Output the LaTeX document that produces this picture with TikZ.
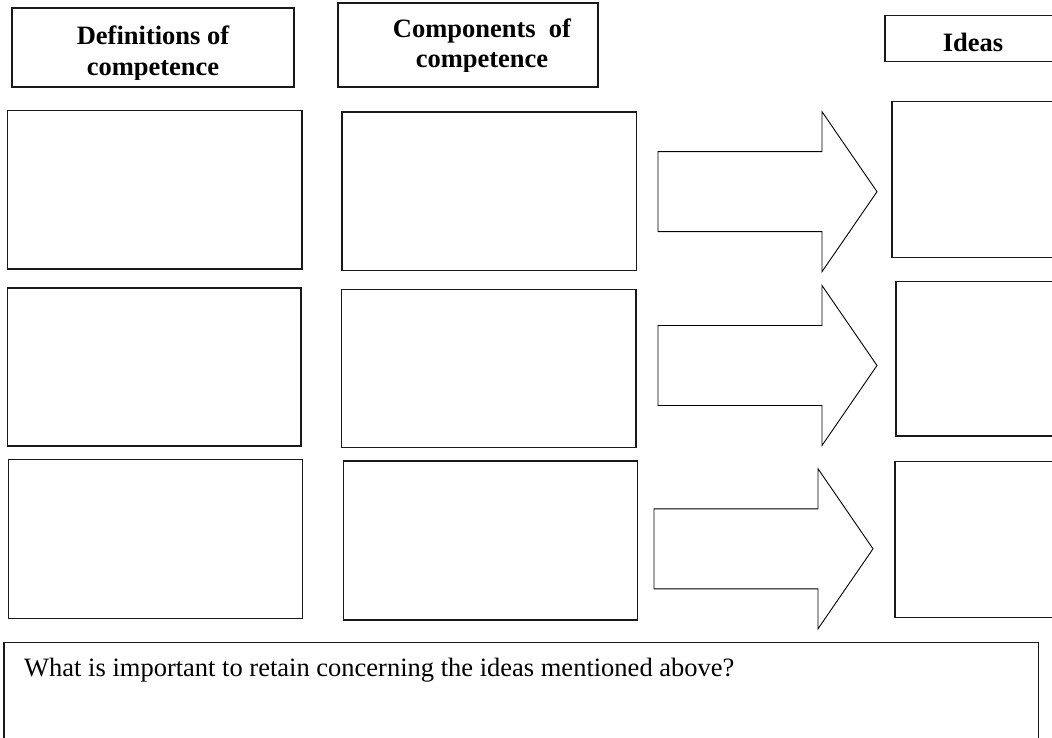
\documentclass[tikz,border=0pt]{standalone}
\usepackage{fontspec}
\setmainfont{Liberation Serif}
\begin{document}
\begin{tikzpicture}[x=1pt,y=-1pt,
  frame/.style={draw=black!90, line width=1.2pt, inner sep=0pt, outer sep=0pt, fill=white},
  heading/.style={font=\fontsize{26.5}{31}\selectfont\bfseries, inner sep=0pt, anchor=base},
  % block arrow: shaft 164 long and 80 high, head 55 long and 160 high
  blockarrow/.pic={
    \draw[line width=0.9pt, line join=miter, fill=white]
      (0,-40) -- (164,-40) -- (164,-80) -- (219,0) -- (164,80) -- (164,40) -- (0,40) -- cycle;
    \coordinate (-tip) at (219,0);
  }]
\useasboundingbox (0,0) rectangle (1052,738);
\clip (0,0) rectangle (1052,738);

% column headings
\node[frame, minimum width=282pt, minimum height=79pt] (defhead) at (153,47.5) {};
\node[frame, minimum width=260pt, minimum height=84pt] (comphead) at (468,45) {};
\node[frame, minimum width=230pt, minimum height=46pt] (ideahead) at (1000,38.7) {};

\node[heading] (deft1) at (153,45) {Definitions of};
\begin{scope}
  \clip (12,8) rectangle (294,80);
  \node[heading] (deft2) at (153,76) {competence};
\end{scope}
\node[heading] (compt1) at (482,38) {Components~ of};
\begin{scope}
  \clip (338,3) rectangle (598,72);
  \node[heading] (compt2) at (482,68) {competence};
\end{scope}
\node[heading] (ideat) at (973,52) {Ideas};

% row 1
\node[frame, minimum width=294.5pt, minimum height=158.5pt] (d1) at (154.75,189.75) {};
\node[frame, minimum width=294.5pt, minimum height=158.5pt] (c1) at (489.25,191.25) {};
\pic (a1) at (658,191.7) {blockarrow};
\node[frame, minimum width=208pt, minimum height=156pt] (i1) at (996,179.7) {};

% row 2
\node[frame, minimum width=293.5pt, minimum height=158pt] (d2) at (154.25,367) {};
\node[frame, minimum width=294.5pt, minimum height=158pt] (c2) at (488.75,368.5) {};
\pic (a2) at (658,365.5) {blockarrow};
\node[frame, minimum width=204pt, minimum height=154.5pt] (i2) at (998,358.75) {};

% row 3
\node[frame, minimum width=294.4pt, minimum height=159pt] (d3) at (155.5,538.8) {};
\node[frame, minimum width=294.4pt, minimum height=159pt] (c3) at (490.5,540.5) {};
\pic (a3) at (654,548.8) {blockarrow};
\node[frame, minimum width=205pt, minimum height=156pt] (i3) at (997.5,539.7) {};

% closing question
\node[frame, minimum width=1034.3pt, minimum height=157.7pt] (note) at (521.15,721.15) {};
\node[font=\fontsize{26.5}{30}\selectfont, inner sep=0pt, anchor=base west] (question) at (24,676.7)
  {What is important to retain concerning the ideas mentioned above?};
\end{tikzpicture}
\end{document}
